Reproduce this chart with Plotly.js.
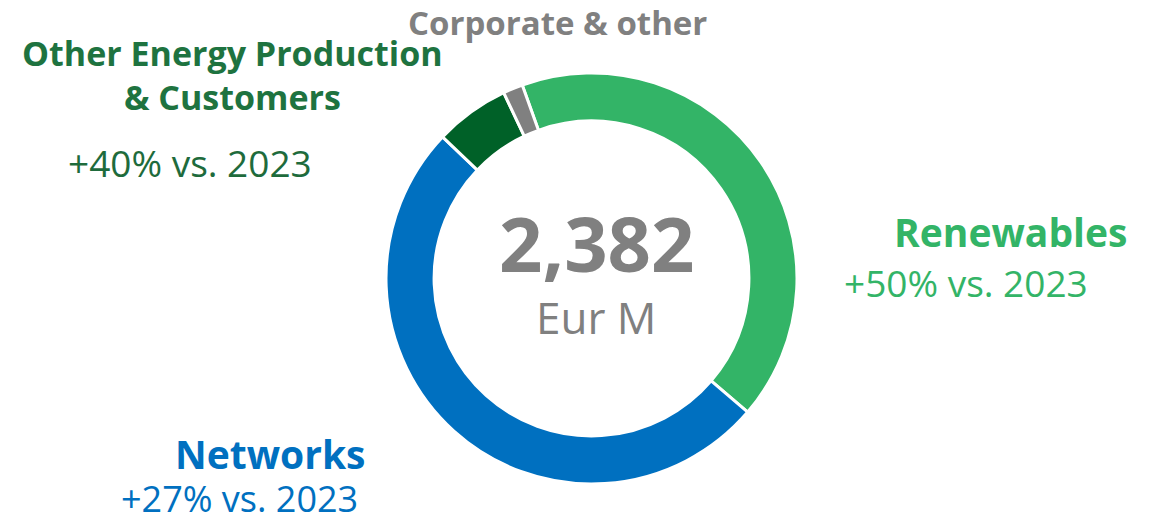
<!DOCTYPE html>
<html>
<head>
<meta charset="utf-8">
<script src="https://cdn.plot.ly/plotly-3.0.1.min.js"></script>
<style>html,body{margin:0;padding:0;background:#fff;}#chart{width:1160px;height:516px;}</style>
</head>
<body>
<div id="chart"></div>
<script>
// Data (EUR M), clockwise from the top
const segments = ["Renewables", "Networks", "Other Energy Production & Customers", "Corporate & other"];
const values = [994, 1211, 140, 37];
const colors = ["#33B467", "#0070C0", "#006128", "#808080"];
const totalLabel = "2,382";
const unitLabel = "Eur M";
const growthLabels = ["+50% vs. 2023", "+27% vs. 2023", "+40% vs. 2023"];

const W = 1160, H = 516;
const px = x => x / W;
const py = y => 1 - y / H;
const FONT = "'Open Sans', Roboto, sans-serif";

const trace = {
  type: "pie",
  labels: segments,
  values: values,
  sort: false,
  direction: "clockwise",
  rotation: -19.7,
  hole: 0.766,
  marker: {colors: colors, line: {color: "#ffffff", width: 3}},
  textinfo: "none",
  hoverinfo: "none",
  showlegend: false,
  domain: {x: [px(386), px(797)], y: [py(484), py(73)]}
};

function ann(text, x, y, xanchor, size, color, bold) {
  return {
    text: bold ? "<b>" + text + "</b>" : text,
    x: px(x), y: py(y), xref: "paper", yref: "paper",
    xanchor: xanchor, yanchor: "middle", showarrow: false,
    font: {family: FONT, size: size, color: color}
  };
}

const annotations = [
  ann(totalLabel, 597, 243, "center", 76, "#808080", true),
  ann(unitLabel, 596, 317, "center", 44, "#808080", false),
  ann(segments[3], 557, 23, "center", 33, "#808080", true),
  ann("Other Energy Production", 232, 53, "center", 34, "#1E7340", true),
  ann("&amp; Customers", 232, 97, "center", 34, "#1E7340", true),
  ann(growthLabels[2], 190, 162, "center", 37, "#1E6B3C", false),
  ann(segments[0], 1129, 231, "right", 39, "#33B467", true),
  ann(growthLabels[0], 842, 282, "left", 37, "#33B467", false),
  ann(segments[1], 368, 453, "right", 39, "#0070C0", true),
  ann(growthLabels[1], 119, 498, "left", 36, "#0070C0", false)
];

const layout = {
  width: W, height: H,
  margin: {l: 0, r: 0, t: 0, b: 0},
  paper_bgcolor: "#ffffff",
  plot_bgcolor: "#ffffff",
  showlegend: false,
  annotations: annotations
};

Plotly.newPlot("chart", [trace], layout, {displayModeBar: false, staticPlot: true});
</script>
</body>
</html>
